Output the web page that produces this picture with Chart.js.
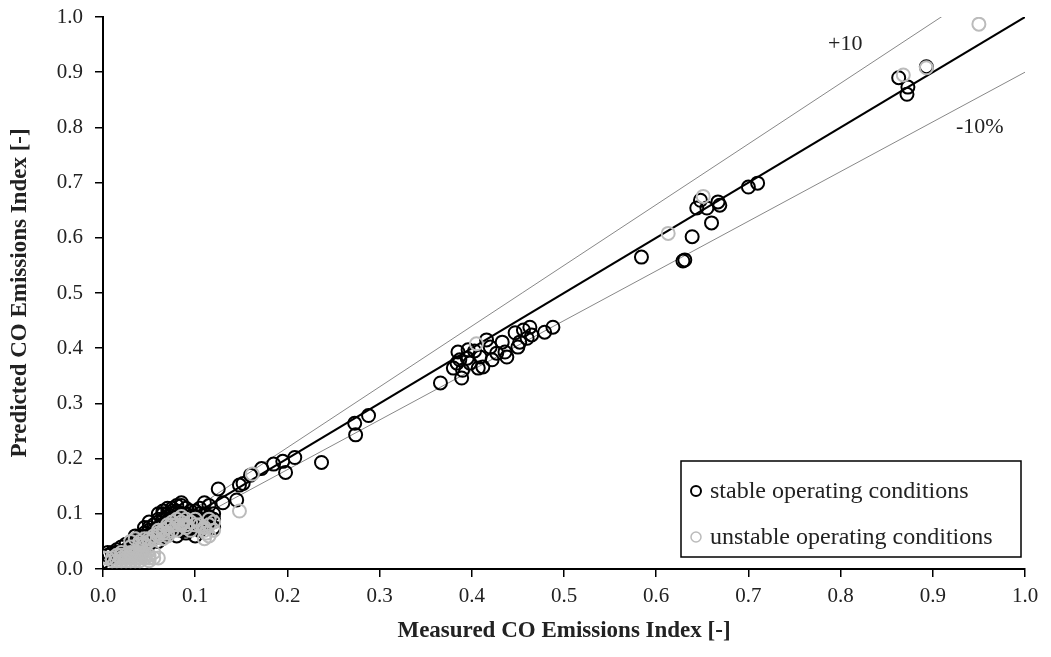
<!DOCTYPE html>
<html>
<head>
<meta charset="utf-8">
<script src="https://cdn.jsdelivr.net/npm/chart.js@4/dist/chart.umd.min.js"></script>
<style>
  html, body { margin: 0; padding: 0; background: #fff; }
  #wrap { width: 1051px; height: 657px; position: relative; }
</style>
</head>
<body>
<div id="wrap"><canvas id="chart"></canvas></div>
<script>
// measured / predicted CO emissions index
const stableX = [0.005, 0.01, 0.015, 0.02, 0.025, 0.03, 0.035, 0.04, 0.045, 0.05, 0.055, 0.06, 0.06, 0.065, 0.065, 0.07, 0.07, 0.075, 0.075, 0.08,
  0.08, 0.085, 0.085, 0.09, 0.09, 0.095, 0.1, 0.1, 0.105, 0.11, 0.115, 0.12, 0.05, 0.04, 0.03, 0.055, 0.07, 0.08, 0.09, 0.1,
  0.045, 0.06, 0.02, 0.115, 0.125, 0.13, 0.145, 0.148, 0.152, 0.16, 0.172, 0.185, 0.195, 0.198, 0.208, 0.237, 0.273, 0.274, 0.288, 0.11,
  0.095, 0.105, 0.366, 0.38, 0.385, 0.387, 0.39, 0.389, 0.396, 0.398, 0.409, 0.412, 0.42, 0.422, 0.427, 0.436, 0.438, 0.447, 0.45, 0.456,
  0.46, 0.463, 0.465, 0.479, 0.488, 0.433, 0.416, 0.395, 0.384, 0.407, 0.452, 0.403, 0.584, 0.631, 0.629, 0.639, 0.644, 0.648, 0.655, 0.66,
  0.667, 0.669, 0.70, 0.71, 0.863, 0.873, 0.872, 0.893,
  0.01, 0.015, 0.02, 0.025, 0.03, 0.035, 0.04, 0.04, 0.045, 0.05, 0.05, 0.055, 0.055, 0.06, 0.06, 0.065, 0.065, 0.07, 0.07, 0.07,
  0.075, 0.075, 0.08, 0.08, 0.085, 0.085, 0.09, 0.09, 0.095, 0.095, 0.1, 0.1, 0.105, 0.105, 0.11, 0.11, 0.115, 0.12, 0.12, 0.06,
  0.065, 0.075, 0.085, 0.08, 0.05, 0.045, 0.035, 0.025, 0.015, 0.005];
const stableY = [0.025, 0.03, 0.035, 0.04, 0.03, 0.045, 0.05, 0.055, 0.06, 0.06, 0.07, 0.075, 0.09, 0.08, 0.1, 0.085, 0.1, 0.09, 0.105, 0.095,
  0.075, 0.1, 0.115, 0.08, 0.1, 0.09, 0.095, 0.075, 0.085, 0.09, 0.085, 0.09, 0.045, 0.04, 0.03, 0.055, 0.065, 0.06, 0.065, 0.06,
  0.05, 0.06, 0.02, 0.115, 0.145, 0.12, 0.125, 0.152, 0.155, 0.17, 0.182, 0.19, 0.195, 0.175, 0.202, 0.193, 0.264, 0.243, 0.278, 0.12,
  0.105, 0.11, 0.337, 0.364, 0.393, 0.379, 0.36, 0.346, 0.397, 0.373, 0.384, 0.366, 0.402, 0.379, 0.391, 0.393, 0.384, 0.428, 0.402, 0.433,
  0.418, 0.438, 0.424, 0.429, 0.438, 0.411, 0.415, 0.382, 0.373, 0.364, 0.411, 0.395, 0.565, 0.56, 0.558, 0.602, 0.654, 0.668, 0.654, 0.627,
  0.665, 0.659, 0.692, 0.699, 0.89, 0.873, 0.86, 0.91,
  0.02, 0.025, 0.03, 0.035, 0.04, 0.04, 0.045, 0.06, 0.065, 0.07, 0.075, 0.08, 0.065, 0.05, 0.085, 0.06, 0.09, 0.07, 0.095, 0.11,
  0.075, 0.1, 0.085, 0.105, 0.09, 0.07, 0.11, 0.07, 0.095, 0.075, 0.105, 0.085, 0.1, 0.07, 0.1, 0.08, 0.095, 0.1, 0.075, 0.1,
  0.105, 0.11, 0.12, 0.115, 0.085, 0.075, 0.06, 0.045, 0.03, 0.03];

const unstableX = [0.0, 0.01, 0.015, 0.02, 0.025, 0.03, 0.035, 0.04, 0.045, 0.05, 0.025, 0.03, 0.02, 0.04, 0.035, 0.03, 0.035, 0.04, 0.045, 0.05,
  0.055, 0.06, 0.065, 0.07, 0.075, 0.08, 0.085, 0.09, 0.075, 0.095, 0.065, 0.07, 0.11, 0.112, 0.115, 0.11, 0.12, 0.148, 0.162, 0.09,
  0.085, 0.405, 0.613, 0.651, 0.868, 0.893, 0.95,
  0.005, 0.01, 0.015, 0.02, 0.025, 0.03, 0.035, 0.04, 0.045, 0.05, 0.055, 0.06, 0.055, 0.045, 0.035, 0.02, 0.03, 0.04, 0.05,
  0.03, 0.04, 0.045, 0.05, 0.055, 0.06, 0.06, 0.065, 0.07, 0.075, 0.08, 0.08, 0.085, 0.09, 0.095, 0.1, 0.1, 0.105, 0.11, 0.115,
  0.12, 0.115, 0.07];
const unstableY = [0.02, 0.02, 0.015, 0.02, 0.025, 0.02, 0.02, 0.02, 0.02, 0.02, 0.015, 0.03, 0.025, 0.025, 0.03, 0.05, 0.055, 0.05, 0.045, 0.055,
  0.06, 0.065, 0.07, 0.08, 0.085, 0.09, 0.08, 0.075, 0.07, 0.085, 0.055, 0.06, 0.075, 0.065, 0.08, 0.055, 0.085, 0.105, 0.172, 0.09,
  0.095, 0.408, 0.608, 0.675, 0.895, 0.908, 0.987,
  0.02, 0.015, 0.025, 0.015, 0.02, 0.015, 0.025, 0.015, 0.025, 0.015, 0.02, 0.02, 0.03, 0.03, 0.015, 0.03, 0.025, 0.03, 0.025,
  0.04, 0.045, 0.055, 0.05, 0.055, 0.06, 0.07, 0.065, 0.075, 0.08, 0.07, 0.08, 0.085, 0.08, 0.07, 0.08, 0.09, 0.08, 0.07, 0.09,
  0.07, 0.06, 0.065];

// reference lines: y = x, +10 %, -10 %
const lineX = [0, 1];
const parityY = [0, 1];
const plusY = [0, 1.1];
const minusY = [0, 0.9];

const legendLabels = ['stable operating conditions', 'unstable operating conditions'];
const FONT = "'Liberation Serif', 'DejaVu Serif', serif";

const pts = (xs, ys) => xs.map((x, i) => ({x: x, y: ys[i]}));

// legend box and line labels drawn inside the plot area
const extras = {
  id: 'extras',
  afterDatasetsDraw(chart) {
    const ctx = chart.ctx;
    const xs = chart.scales.x;
    const ys = chart.scales.y;
    ctx.save();
    ctx.fillStyle = '#222';
    ctx.font = '22px ' + FONT;
    ctx.textAlign = 'center';
    ctx.textBaseline = 'middle';
    ctx.fillText('+10', xs.getPixelForValue(0.805), ys.getPixelForValue(0.95));
    ctx.fillText('-10%', xs.getPixelForValue(0.951), ys.getPixelForValue(0.80));

    const a = chart.chartArea;
    const bx = a.right - 344, by = a.bottom - 108, bw = 340, bh = 96;
    ctx.fillStyle = '#fff';
    ctx.fillRect(bx, by, bw, bh);
    ctx.strokeStyle = '#000';
    ctx.lineWidth = 1.5;
    ctx.strokeRect(bx, by, bw, bh);
    const cols = ['#000', '#bbb'];
    for (let i = 0; i < 2; i++)
    {
      const cy = by + 30 + i * 46;
      ctx.beginPath();
      ctx.arc(bx + 15, cy, 5, 0, Math.PI * 2);
      ctx.strokeStyle = cols[i];
      ctx.lineWidth = i == 0 ? 2 : 1.5;
      ctx.stroke();
      ctx.fillStyle = '#222';
      ctx.font = '24px ' + FONT;
      ctx.textAlign = 'left';
      ctx.fillText(legendLabels[i], bx + 29, cy + 1);
    }
    ctx.restore();
  }
};

const ctx = document.getElementById('chart');
new Chart(ctx, {
  type: 'scatter',
  data: {
    datasets: [
      {label: legendLabels[1], data: pts(unstableX, unstableY), order: 1,
        pointRadius: 6.5, pointBorderWidth: 2, pointBorderColor: '#bbb', pointBackgroundColor: 'rgba(0,0,0,0)'},
      {label: legendLabels[0], data: pts(stableX, stableY), order: 2,
        pointRadius: 6.5, pointBorderWidth: 2, pointBorderColor: '#000', pointBackgroundColor: 'rgba(0,0,0,0)'},
      {type: 'line', label: 'parity', data: pts(lineX, parityY), order: 3,
        borderColor: '#000', borderWidth: 2, pointRadius: 0},
      {type: 'line', label: '+10', data: pts(lineX, plusY), order: 3,
        borderColor: '#888', borderWidth: 1, pointRadius: 0},
      {type: 'line', label: '-10%', data: pts(lineX, minusY), order: 3,
        borderColor: '#888', borderWidth: 1, pointRadius: 0}
    ]
  },
  options: {
    responsive: true,
    maintainAspectRatio: false,
    animation: false,
    layout: {padding: {top: 17, right: 26, left: 2, bottom: 8}},
    plugins: {legend: {display: false}, tooltip: {enabled: false}},
    scales: {
      x: {
        type: 'linear', min: 0, max: 1,
        afterFit: (s) => { s.height = 80; },
        border: {display: true, color: '#000', width: 2},
        grid: {drawOnChartArea: false, drawTicks: true, tickLength: 8, color: '#000', lineWidth: 1.5},
        ticks: {stepSize: 0.1, color: '#222', font: {family: FONT, size: 21}, padding: 7,
          callback: (v) => v.toFixed(1)},
        title: {display: true, text: 'Measured CO Emissions Index [-]', color: '#222',
          font: {family: FONT, size: 23, weight: 'bold'}, padding: {top: 10}}
      },
      y: {
        type: 'linear', min: 0, max: 1,
        afterFit: (s) => { s.width = 101; s.paddingTop = 0; s.paddingBottom = 0; },
        border: {display: true, color: '#000', width: 2},
        grid: {drawOnChartArea: false, drawTicks: true, tickLength: 8, color: '#000', lineWidth: 1.5},
        ticks: {stepSize: 0.1, color: '#222', font: {family: FONT, size: 21}, padding: 12,
          callback: (v) => v.toFixed(1)},
        title: {display: true, text: 'Predicted CO Emissions Index [-]', color: '#222',
          font: {family: FONT, size: 23, weight: 'bold'}, padding: {bottom: 4}}
      }
    }
  },
  plugins: [extras]
});
</script>
</body>
</html>
